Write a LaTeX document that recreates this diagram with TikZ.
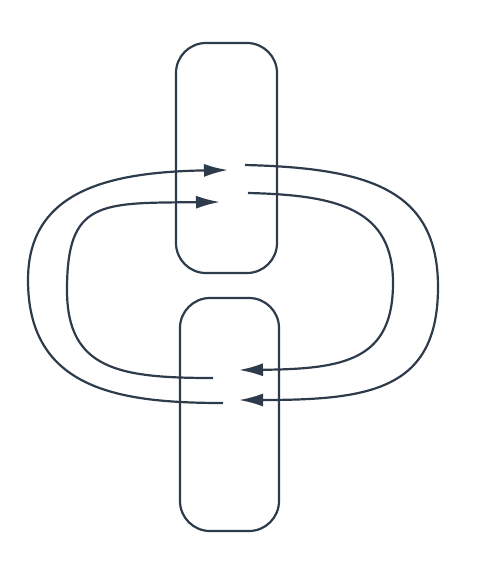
\documentclass[tikz,border=0pt]{standalone}
\usetikzlibrary{arrows.meta}
\definecolor{linkgray}{HTML}{2E3B4A}

\begin{document}
\begin{tikzpicture}[
  x=0.2mm, y=-0.2mm,
  link/.style={draw=linkgray, line width=1.25pt, rounded corners=6mm, minimum width=20.2mm, minimum height=46mm, inner sep=0pt},
  loop/.style={draw=linkgray, line width=1.25pt},
  flow/.style={loop, -{Latex[length=4.8mm, width=2.6mm]}}
]
\useasboundingbox (0,0) rectangle (488,576);

\node[link] (upper) at (226.5,158) {};
\node[link, minimum width=19.8mm, minimum height=46.6mm] (lower) at (229.5,414.5) {};

% loose ends of the two loops
\coordinate (outerA) at (223,403);
\coordinate (outerB) at (228,170);
\coordinate (outerC) at (245,165);
\coordinate (outerD) at (239,400);
\coordinate (innerA) at (213,378);
\coordinate (innerB) at (220,202);
\coordinate (innerC) at (248,193);
\coordinate (innerD) at (239,370);

% outer loop
\draw[flow] (outerA) .. controls (120,403) and (28,390) .. (28,280) .. controls (28,190) and (110,172) .. (outerB);
\draw[flow] (outerC) .. controls (370,168) and (438,190) .. (438,287) .. controls (438,390) and (370,400) .. (outerD);

% inner loop
\draw[flow] (innerA) .. controls (120,378) and (67,370) .. (67,290) .. controls (67,200) and (100,203) .. (innerB);
\draw[flow] (innerC) .. controls (340,195) and (393,210) .. (393,283) .. controls (393,360) and (345,369) .. (innerD);

\end{tikzpicture}
\end{document}
